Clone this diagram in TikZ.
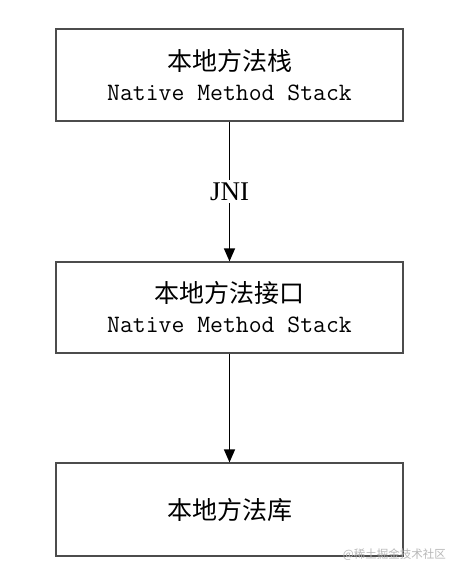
\documentclass[tikz,border=0pt]{standalone}
\usepackage{fontspec}
\newfontfamily\cjk{Noto Sans CJK SC}
\newfontfamily\serifjni{Liberation Serif}
\usetikzlibrary{arrows.meta}
\tikzset{
  layerbox/.style={draw=boxColor,line width=1.2pt,minimum width=347pt,inner sep=0pt,align=center,
    font=\fontsize{25}{30}\selectfont},
  flowarrow/.style={draw=black,line width=1.4pt,-{Triangle[length=13pt,width=11pt]}}
}
\begin{document}
\begin{tikzpicture}[x=1pt,y=-1pt]
\definecolor{fillColor}{RGB}{255,255,255}
\definecolor{boxColor}{gray}{0.3}
\definecolor{markColor}{gray}{0.72}
\path[use as bounding box,fill=fillColor] (0,0) rectangle (459,575);

\node[layerbox,minimum height=92pt] (stack) at (229.5, 75.0)
  {{\cjk 本地方法栈}\\
   {\ttfamily Native Method Stack}};

\node[layerbox,minimum height=91pt] (iface) at (229.5,307.5)
  {{\cjk 本地方法接口}\\
   {\ttfamily Native Method Stack}};

\node[layerbox,minimum height=93pt] (lib) at (229.5,509.5)
  {{\cjk 本地方法库}};

\draw[flowarrow] (stack.south) -- node[fill=fillColor,inner sep=3pt,font=\serifjni\fontsize{27}{30}\selectfont] (jni) {JNI} (iface.north);
\draw[flowarrow] (iface.south) -- (lib.north);

\node[text=markColor,anchor=east,inner sep=0pt,font=\cjk\fontsize{11.5}{13}\selectfont] (mark) at (446,555) {@稀土掘金技术社区};
\end{tikzpicture}
\end{document}
